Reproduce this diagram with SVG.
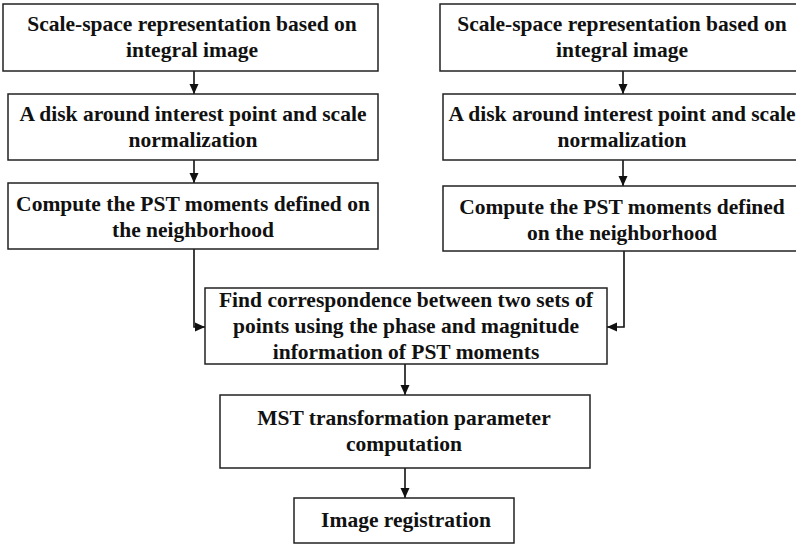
<svg xmlns="http://www.w3.org/2000/svg" width="796" height="546" viewBox="0 0 796 546">
<defs>
<style>
.box{fill:#fff;stroke:#222;stroke-width:1.5}
.t{font-family:"Liberation Serif","Times New Roman",serif;font-weight:bold;font-size:21.5px;fill:#111;text-anchor:middle}
.c{fill:none;stroke:#111;stroke-width:1.6}
</style>
<marker id="ah" markerWidth="10" markerHeight="10" refX="10" refY="5" orient="auto" markerUnits="userSpaceOnUse">
<path d="M0,0.5 L10,5 L0,9.5 z" fill="#111"/>
</marker>
</defs>
<rect width="796" height="546" fill="#fff"/>
<g id="connectors">
<line class="c" x1="194" y1="71" x2="194" y2="94" marker-end="url(#ah)"/>
<line class="c" x1="194" y1="160" x2="194" y2="183" marker-end="url(#ah)"/>
<line class="c" x1="623" y1="71" x2="623" y2="94" marker-end="url(#ah)"/>
<line class="c" x1="623" y1="160" x2="623" y2="186" marker-end="url(#ah)"/>
<polyline class="c" points="194,249 194,327 205,327" marker-end="url(#ah)"/>
<polyline class="c" points="624,251 624,327 607,327" marker-end="url(#ah)"/>
<line class="c" x1="405" y1="364" x2="405" y2="395" marker-end="url(#ah)"/>
<line class="c" x1="405" y1="468" x2="405" y2="498" marker-end="url(#ah)"/>
</g>
<g id="left1">
<rect class="box" x="3" y="4" width="375" height="67"/>
<text class="t" x="192" y="31">Scale-space representation based on</text>
<text class="t" x="192" y="57">integral image</text>
</g>
<g id="left2">
<rect class="box" x="8" y="94" width="370" height="66"/>
<text class="t" x="193" y="121">A disk around interest point and scale</text>
<text class="t" x="193" y="147">normalization</text>
</g>
<g id="left3">
<rect class="box" x="8" y="183" width="370" height="66"/>
<text class="t" x="193" y="211">Compute the PST moments defined on</text>
<text class="t" x="193" y="237">the neighborhood</text>
</g>
<g id="right1">
<rect class="box" x="440" y="4" width="370" height="67"/>
<text class="t" x="622" y="31">Scale-space representation based on</text>
<text class="t" x="622" y="57">integral image</text>
</g>
<g id="right2">
<rect class="box" x="443" y="94" width="370" height="66"/>
<text class="t" x="622" y="121">A disk around interest point and scale</text>
<text class="t" x="622" y="147">normalization</text>
</g>
<g id="right3">
<rect class="box" x="443" y="186" width="370" height="65"/>
<text class="t" x="622" y="214">Compute the PST moments defined</text>
<text class="t" x="622" y="240">on the neighborhood</text>
</g>
<g id="match">
<rect class="box" x="205" y="288" width="402" height="76"/>
<text class="t" x="406" y="307">Find correspondence between two sets of</text>
<text class="t" x="406" y="333">points using the phase and magnitude</text>
<text class="t" x="406" y="359">information of PST moments</text>
</g>
<g id="mst">
<rect class="box" x="220" y="395" width="370" height="73"/>
<text class="t" x="404" y="425">MST transformation parameter</text>
<text class="t" x="404" y="451">computation</text>
</g>
<g id="reg">
<rect class="box" x="294" y="498" width="220" height="45"/>
<text class="t" x="406" y="527">Image registration</text>
</g>
</svg>
